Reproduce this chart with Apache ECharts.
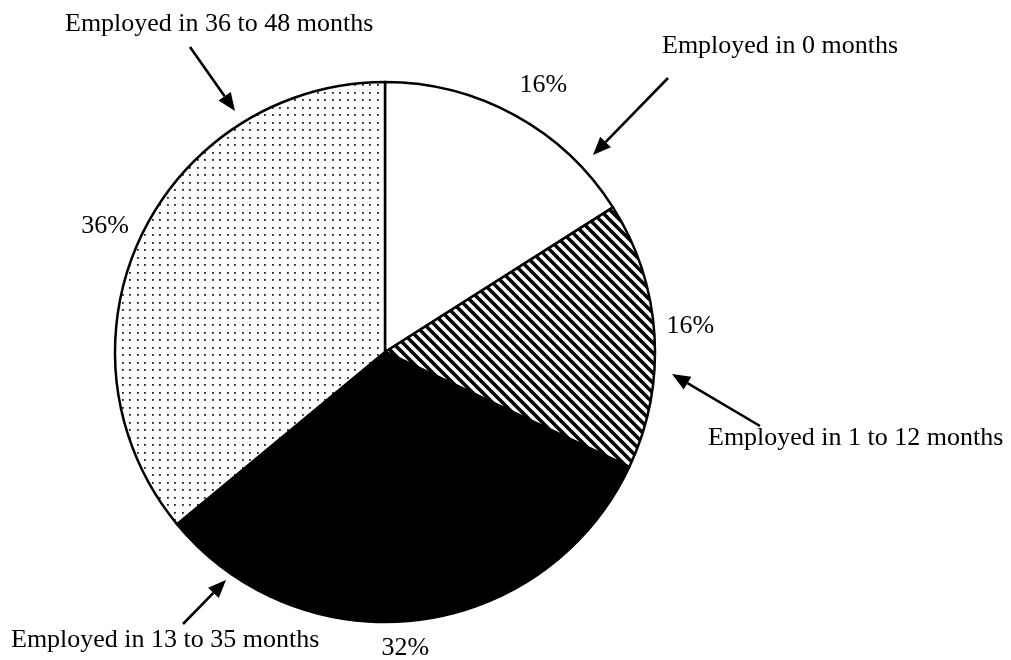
<!DOCTYPE html>
<html>
<head>
<meta charset="utf-8">
<script src="https://cdn.jsdelivr.net/npm/echarts@6/dist/echarts.min.js"></script>
<style>
    html, body { margin: 0; padding: 0; background: #fff; }
    #pie-chart { width: 1011px; height: 660px; }
</style>
</head>
<body>
<div id="pie-chart"></div>
<script>
// 数据
const categories = ["Employed in 0 months", "Employed in 1 to 12 months", "Employed in 13 to 35 months", "Employed in 36 to 48 months"]
const shares = [16, 16, 32, 36]

const FONT = "'Liberation Serif', 'Times New Roman', serif"
const CX = 385, CY = 352, R = 270
const LABEL_R = 306
// 百分比标签微调（像素）
const labelNudge = [[11, 1], [0, -7], [-18, -7], [-3, 4]]

// 斜线填充
function hatchPattern() {
    const s = 10
    const c = document.createElement("canvas")
    c.width = c.height = s
    const ctx = c.getContext("2d")
    ctx.fillStyle = "#fff"
    ctx.fillRect(0, 0, s, s)
    ctx.strokeStyle = "#000"
    ctx.lineWidth = 3.6
    for (let k = -2; k <= 2; k++) {
        ctx.beginPath()
        ctx.moveTo(k * s - s, -s)
        ctx.lineTo(k * s + 2 * s, 2 * s)
        ctx.stroke()
    }
    return c
}

// 点状填充
function dotPattern() {
    const c = document.createElement("canvas")
    c.width = c.height = 15
    const ctx = c.getContext("2d")
    ctx.fillStyle = "#fff"
    ctx.fillRect(0, 0, 15, 15)
    ctx.fillStyle = "#222"
    ;[[2, 2], [9, 2], [2, 9], [9, 9]].forEach(([x, y]) => {
        ctx.fillRect(x, y, 1.8, 1.8)
    })
    return c
}

const fills = [
    "#fff",
    { image: hatchPattern(), repeat: "repeat" },
    "#000",
    { image: dotPattern(), repeat: "repeat" }
]

// 箭头
function arrow(x1, y1, x2, y2) {
    const ang = Math.atan2(y2 - y1, x2 - x1)
    const len = 18, half = 7.5
    const bx = x2 - len * Math.cos(ang), by = y2 - len * Math.sin(ang)
    const nx = -Math.sin(ang) * half, ny = Math.cos(ang) * half
    return [
        {
            type: "line",
            shape: { x1, y1, x2: bx, y2: by },
            style: { stroke: "#000", lineWidth: 2.6 }
        },
        {
            type: "polygon",
            shape: { points: [[x2, y2], [bx + nx, by + ny], [bx - nx, by - ny]] },
            style: { fill: "#000" }
        }
    ]
}

// 注释文字与箭头（按类别顺序）
const notes = [
    { tx: 662, ty: 46, arrow: [668, 78, 593, 155] },
    { tx: 708, ty: 438, arrow: [760, 426, 672, 374] },
    { tx: 11, ty: 640, arrow: [183, 624, 226, 580] },
    { tx: 65, ty: 24, arrow: [190, 47, 235, 111] }
]

const total = shares.reduce((a, b) => a + b, 0)
function midAngle(i) {
    let cum = 0
    for (let k = 0; k < i; k++) cum += shares[k]
    return (cum + shares[i] / 2) / total * Math.PI * 2
}

const graphics = []
notes.forEach((n, i) => {
    graphics.push({
        type: "text",
        x: n.tx,
        y: n.ty,
        style: {
            text: categories[i],
            font: `26px ${FONT}`,
            fill: "#000",
            align: "left",
            verticalAlign: "middle"
        }
    })
    graphics.push(...arrow(...n.arrow))
})

const chart = echarts.init(document.getElementById("pie-chart"))
chart.setOption({
    animation: false,
    backgroundColor: "#fff",
    graphic: graphics,
    series: [{
        type: "pie",
        center: [CX, CY],
        radius: R,
        startAngle: 90,
        clockwise: true,
        silent: true,
        data: categories.map((name, i) => ({
            name,
            value: shares[i],
            itemStyle: { color: fills[i] }
        })),
        itemStyle: { borderColor: "#000", borderWidth: 2.5 },
        label: {
            show: true,
            position: "outside",
            formatter: "{c}%",
            fontFamily: FONT,
            fontSize: 26,
            color: "#000"
        },
        labelLine: { show: false },
        labelLayout: (p) => {
            const a = midAngle(p.dataIndex)
            const [dx, dy] = labelNudge[p.dataIndex]
            return {
                x: CX + LABEL_R * Math.sin(a) + dx,
                y: CY - LABEL_R * Math.cos(a) + dy,
                align: "center",
                verticalAlign: "middle"
            }
        }
    }]
})
</script>
</body>
</html>
